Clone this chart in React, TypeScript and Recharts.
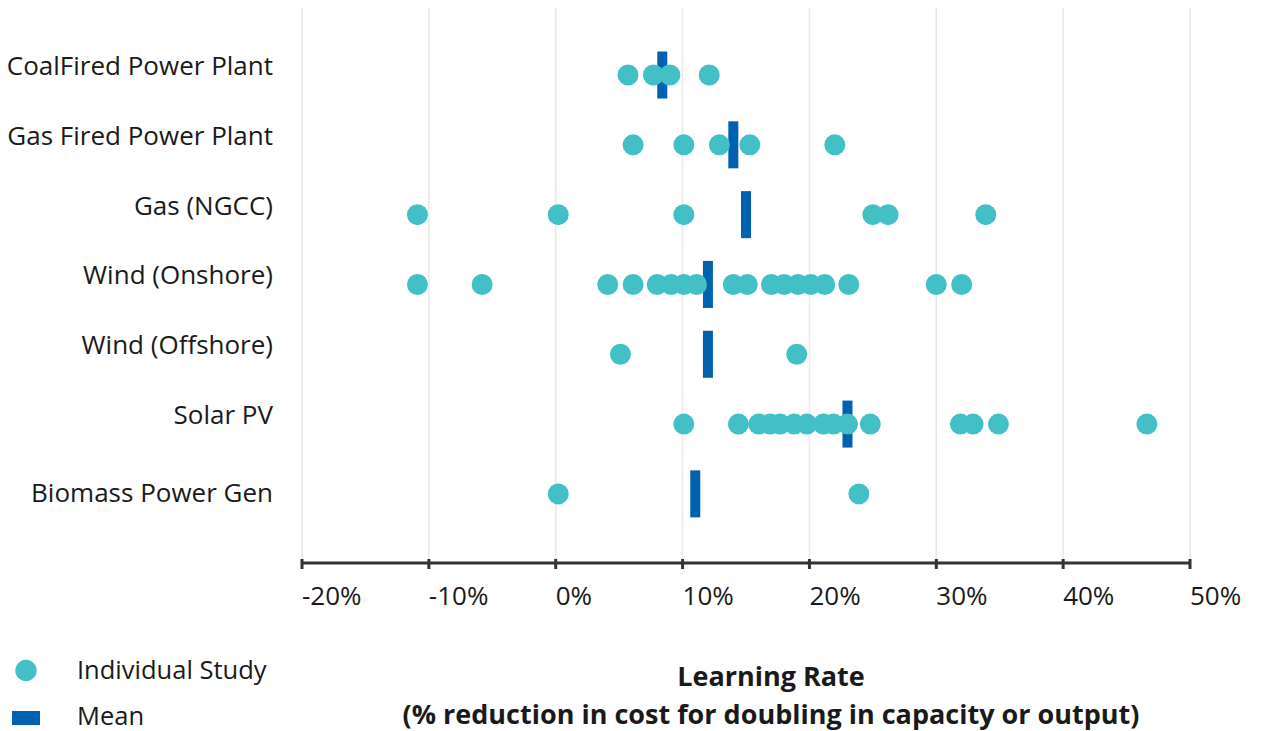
import { CartesianGrid, Scatter, ScatterChart, XAxis, YAxis } from 'recharts';

const categories = [
  'CoalFired Power Plant',
  'Gas Fired Power Plant',
  'Gas (NGCC)',
  'Wind (Onshore)',
  'Wind (Offshore)',
  'Solar PV',
  'Biomass Power Gen',
];

const coalStudies = [5.7, 7.7, 9.0, 12.1];
const gasFiredStudies = [6.1, 10.1, 12.9, 15.3, 22.0];
const ngccStudies = [-10.9, 0.2, 10.1, 25.0, 26.2, 33.9];
const onshoreStudies = [
  -10.9, -5.8, 4.1, 6.1, 8.0, 9.1, 10.1, 11.1, 14.0, 15.1, 17.0, 18.0, 19.1,
  20.1, 21.2, 23.1, 30.0, 32.0,
];
const offshoreStudies = [5.1, 19.0];
const solarStudies = [
  10.1, 14.4, 16.0, 16.9, 17.7, 18.8, 19.8, 21.1, 21.9, 23.0, 24.8, 31.9, 32.9,
  34.9, 46.6,
];
const biomassStudies = [0.2, 23.9];

const means = [8.4, 14.0, 15.0, 12.0, 12.0, 23.0, 11.0];

const xTicks = [-20, -10, 0, 10, 20, 30, 40, 50];

const TEAL = '#43c0c6';
const BLUE = '#0062af';
const TEXT = '#1a1a1a';
const FONT = '"Open Sans", sans-serif';

const studyData = [
  coalStudies,
  gasFiredStudies,
  ngccStudies,
  onshoreStudies,
  offshoreStudies,
  solarStudies,
  biomassStudies,
].flatMap((list, row) => list.map((v) => ({ x: v, y: row })));

const meanData = means.map((v, row) => ({ x: v, y: row }));

const StudyDot = (props: any) => (
  <circle cx={props.cx} cy={props.cy} r={10.5} fill={TEAL} />
);

const MeanBar = (props: any) => (
  <rect x={props.cx - 5} y={props.cy - 23.5} width={10} height={47} fill={BLUE} />
);

const XTick = (props: any) => {
  const { x, y, payload } = props;
  const axisY = y - 8;
  return (
    <g>
      <line x1={x} x2={x} y1={axisY - 4} y2={axisY + 6} stroke="#333" strokeWidth={3} />
      <text x={x} y={y + 34} textAnchor="start" fill={TEXT} fontSize={26} fontFamily={FONT}>
        {`${payload.value}%`}
      </text>
    </g>
  );
};

const YTick = (props: any) => {
  const { x, y, payload } = props;
  // the last label sits level with its dots in the original
  const dy = payload.value === 6 ? 8 : 0;
  return (
    <text x={x} y={y + dy} textAnchor="end" fill={TEXT} fontSize={26} fontFamily={FONT}>
      {categories[payload.value]}
    </text>
  );
};

export default function App() {
  return (
    <div style={{ position: 'absolute', left: 0, top: 0, width: 1261, height: 731 }}>
      <ScatterChart width={1261} height={731} margin={{ top: 8, right: 71, bottom: 0, left: 0 }}>
        <CartesianGrid horizontal={false} stroke="#e8e8e8" strokeWidth={1.5} />
        <XAxis
          type="number"
          dataKey="x"
          domain={[-20, 50]}
          ticks={xTicks}
          interval={0}
          height={168}
          tickSize={6}
          tickMargin={2}
          tickLine={false}
          axisLine={{ stroke: '#333', strokeWidth: 3 }}
          tick={<XTick />}
        />
        <YAxis
          type="number"
          dataKey="y"
          reversed
          domain={[-0.96, 6.99]}
          ticks={[0, 1, 2, 3, 4, 5, 6]}
          interval={0}
          width={302}
          tickSize={0}
          tickMargin={29}
          tickLine={false}
          axisLine={false}
          tick={<YTick />}
        />
        <Scatter name="Mean" data={meanData} shape={<MeanBar />} isAnimationActive={false} />
        <Scatter name="Individual Study" data={studyData} shape={<StudyDot />} isAnimationActive={false} />
      </ScatterChart>

      <svg style={{ position: 'absolute', left: 0, top: 0 }} width={1261} height={731} pointerEvents="none">
        <circle cx={26} cy={670.5} r={10.7} fill={TEAL} />
        <rect x={12} y={711} width={28} height={14} fill={BLUE} />
        <text x={77} y={679} fontSize={25.5} fontFamily={FONT} fill={TEXT}>
          Individual Study
        </text>
        <text x={77} y={725} fontSize={25.5} fontFamily={FONT} fill={TEXT}>
          Mean
        </text>
        <text x={771} y={686} textAnchor="middle" fontSize={27} fontWeight={700} fontFamily={FONT} fill={TEXT}>
          Learning Rate
        </text>
        <text x={771} y={724} textAnchor="middle" fontSize={27} fontWeight={700} fontFamily={FONT} fill={TEXT}>
          (% reduction in cost for doubling in capacity or output)
        </text>
      </svg>
    </div>
  );
}
